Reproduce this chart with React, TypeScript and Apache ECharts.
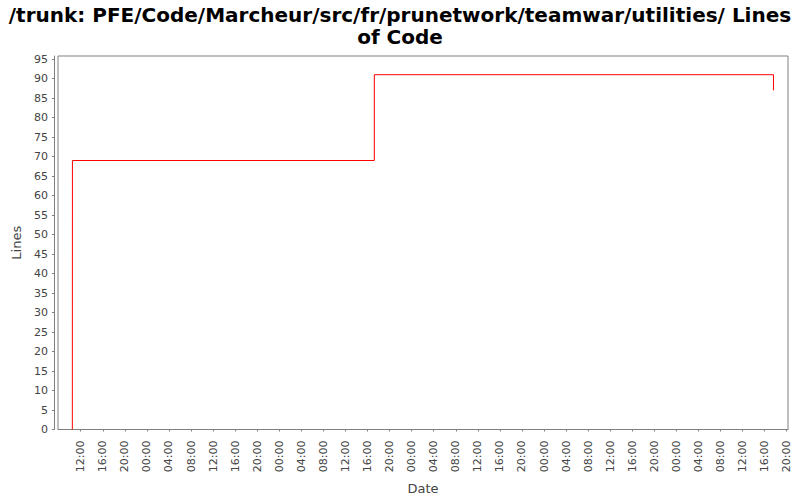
import React, { useEffect, useRef } from "react";
import * as echarts from "echarts";

const titleText = "/trunk: PFE/Code/Marcheur/src/fr/prunetwork/teamwar/utilities/ Lines\nof Code";
const dates = ["2009-03-02 10:29", "2009-03-02 10:30", "2009-03-04 17:14", "2009-03-07 17:36"];
const linesOfCode = [0, 69, 91, 87];
const yTicks = [0, 5, 10, 15, 20, 25, 30, 35, 40, 45, 50, 55, 60, 65, 70, 75, 80, 85, 90, 95];
const xTickDates = [
  "2009-03-02 12:00", "2009-03-02 16:00", "2009-03-02 20:00",
  "2009-03-03 00:00", "2009-03-03 04:00", "2009-03-03 08:00", "2009-03-03 12:00", "2009-03-03 16:00", "2009-03-03 20:00",
  "2009-03-04 00:00", "2009-03-04 04:00", "2009-03-04 08:00", "2009-03-04 12:00", "2009-03-04 16:00", "2009-03-04 20:00",
  "2009-03-05 00:00", "2009-03-05 04:00", "2009-03-05 08:00", "2009-03-05 12:00", "2009-03-05 16:00", "2009-03-05 20:00",
  "2009-03-06 00:00", "2009-03-06 04:00", "2009-03-06 08:00", "2009-03-06 12:00", "2009-03-06 16:00", "2009-03-06 20:00",
  "2009-03-07 00:00", "2009-03-07 04:00", "2009-03-07 08:00", "2009-03-07 12:00", "2009-03-07 16:00", "2009-03-07 20:00",
];
const xRange = ["2009-03-02 07:53", "2009-03-07 20:14"];
const yMax = 95.8;

const BASE = Date.UTC(2009, 2, 2, 0, 0);
function toHours(s: string): number {
  const [d, t] = s.split(" ");
  const [Y, M, D] = d.split("-").map(Number);
  const [h, m] = t.split(":").map(Number);
  return (Date.UTC(Y, M - 1, D, h, m) - BASE) / 3600000;
}
function fmtHour(v: number): string {
  const h = ((Math.round(v) % 24) + 24) % 24;
  return (h < 10 ? "0" : "") + h + ":00";
}

export default function App() {
  const ref = useRef<HTMLDivElement>(null);
  useEffect(() => {
    if (!ref.current) return;
    const chart = echarts.init(ref.current, null, { renderer: "svg" });
    const xTicks = xTickDates.map(toHours);
    const font = "'DejaVu Sans', sans-serif";
    chart.setOption({
      animation: false,
      backgroundColor: "#ffffff",
      title: {
        text: titleText,
        left: "center",
        top: 4,
        padding: 0,
        textStyle: { fontFamily: font, fontWeight: "bold", fontSize: 20, color: "#000", lineHeight: 22 },
      },
      grid: {
        left: 58, right: 12, top: 56, bottom: 70.5,
        show: true, borderColor: "#808080", borderWidth: 1, backgroundColor: "#ffffff",
      },
      xAxis: {
        type: "value",
        min: toHours(xRange[0]),
        max: toHours(xRange[1]),
        offset: 4,
        name: "Date",
        nameLocation: "middle",
        nameGap: 48,
        nameTextStyle: { fontFamily: font, fontSize: 13, color: "#444444" },
        axisLine: { show: true, lineStyle: { color: "#808080" } },
        axisTick: { show: true, length: 2, customValues: xTicks, lineStyle: { color: "#808080" } },
        axisLabel: {
          customValues: xTicks, rotate: 90, margin: 7,
          fontFamily: font, fontSize: 11, color: "#444444",
          formatter: (v: number) => fmtHour(v),
        },
        splitLine: { show: false },
      },
      yAxis: {
        type: "value",
        min: 0,
        max: yMax,
        offset: 4,
        name: "Lines",
        nameLocation: "middle",
        nameGap: 25,
        nameTextStyle: { fontFamily: font, fontSize: 13, color: "#444444" },
        axisLine: { show: true, lineStyle: { color: "#808080" } },
        axisTick: { show: true, length: 2, customValues: yTicks, lineStyle: { color: "#808080" } },
        axisLabel: { customValues: yTicks, margin: 6, fontFamily: font, fontSize: 11, color: "#444444" },
        splitLine: { show: false },
      },
      series: [
        {
          type: "line",
          step: "end",
          symbol: "none",
          data: dates.map((d, i) => [toHours(d), linesOfCode[i]]),
          lineStyle: { color: "#ff0000", width: 1 },
        },
      ],
    });
    return () => chart.dispose();
  }, []);
  return <div ref={ref} style={{ width: 800, height: 500, position: "absolute", left: 0, top: 0 }} />;
}
